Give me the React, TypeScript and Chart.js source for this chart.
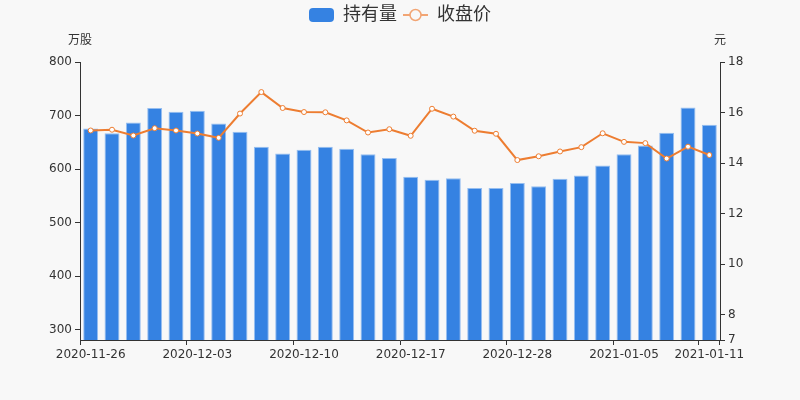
import React, { useRef, useEffect } from 'react';
import { Chart, registerables } from 'chart.js';

Chart.register(...registerables);

const dates = [
  '2020-11-26', '2020-11-27', '2020-11-30', '2020-12-01', '2020-12-02', '2020-12-03',
  '2020-12-04', '2020-12-07', '2020-12-08', '2020-12-09', '2020-12-10', '2020-12-11',
  '2020-12-14', '2020-12-15', '2020-12-16', '2020-12-17', '2020-12-18', '2020-12-21',
  '2020-12-22', '2020-12-23', '2020-12-28', '2020-12-29', '2020-12-30', '2020-12-31',
  '2021-01-04', '2021-01-05', '2021-01-06', '2021-01-07', '2021-01-08', '2021-01-11',
];

// 持有量 (万股)
const holdings = [
  676, 667, 687, 714, 707, 709, 685, 670, 642, 629,
  636, 642, 638, 628, 621, 586, 580, 583, 565, 565,
  574, 568, 582, 588, 607, 628, 644, 668, 715, 683,
];

// 收盘价 (元)
const closePrice = [
  15.29, 15.32, 15.09, 15.38, 15.29, 15.17, 15.0, 15.96, 16.81, 16.18,
  16.02, 16.01, 15.69, 15.21, 15.34, 15.08, 16.15, 15.84, 15.28, 15.16,
  14.12, 14.27, 14.46, 14.63, 15.18, 14.84, 14.79, 14.18, 14.65, 14.32,
];

const shownDateIdx = [0, 5, 10, 15, 20, 25, 29];
const leftTicks = [300, 400, 500, 600, 700, 800];
const rightTicks = [7, 8, 10, 12, 14, 16, 18];

const FONT = "'DejaVu Sans', 'Noto Sans CJK SC', sans-serif";
const AXIS = '#333';
const BAR = '#3582e2';
const LINE = '#ed7d31';

function makeBarIcon() {
  const c = document.createElement('canvas');
  c.width = 25;
  c.height = 14;
  const g = c.getContext('2d')!;
  g.fillStyle = BAR;
  g.beginPath();
  g.roundRect(0, 0, 25, 14, 4);
  g.fill();
  return c;
}

function makeLineIcon() {
  const c = document.createElement('canvas');
  c.width = 25;
  c.height = 14;
  const g = c.getContext('2d')!;
  g.strokeStyle = '#f2a574';
  g.lineWidth = 2;
  g.beginPath();
  g.moveTo(0, 7);
  g.lineTo(25, 7);
  g.stroke();
  g.fillStyle = '#f8f8f8';
  g.beginPath();
  g.arc(12.5, 7, 5.5, 0, Math.PI * 2);
  g.fill();
  g.lineWidth = 1.5;
  g.stroke();
  return c;
}

const axisNames = {
  id: 'axisNames',
  afterDraw(chart: any) {
    const { ctx, chartArea } = chart;
    ctx.save();
    ctx.font = `12px ${FONT}`;
    ctx.fillStyle = AXIS;
    ctx.textAlign = 'center';
    ctx.textBaseline = 'middle';
    ctx.fillText('万股', chartArea.left, chartArea.top - 21);
    ctx.fillText('元', chartArea.right, chartArea.top - 21);
    ctx.restore();
  },
};

const App: React.FC = () => {
  const canvas = useRef<HTMLCanvasElement>(null);

  useEffect(() => {
    if (!canvas.current) return;
    const ctx = canvas.current.getContext('2d');
    if (!ctx) return;

    const barIcon = makeBarIcon();
    const lineIcon = makeLineIcon();

    const tickVisible = (c: any) =>
      c.index === undefined || shownDateIdx.includes(c.index) ? AXIS : 'rgba(0,0,0,0)';

    const chart = new Chart(ctx, {
      type: 'bar',
      data: {
        labels: dates,
        datasets: [
          {
            type: 'line',
            label: '收盘价',
            data: closePrice,
            yAxisID: 'y1',
            borderColor: LINE,
            borderWidth: 2,
            pointRadius: 2.5,
            pointBorderWidth: 1,
            pointBackgroundColor: '#fff',
            pointBorderColor: LINE,
            tension: 0,
            order: 1,
          },
          {
            type: 'bar',
            label: '持有量',
            data: holdings,
            yAxisID: 'y',
            backgroundColor: BAR,
            borderColor: 'rgba(150,190,240,1)',
            borderWidth: 1,
            barPercentage: 0.7,
            categoryPercentage: 1,
            order: 2,
          },
        ],
      },
      options: {
        animation: false,
        responsive: false,
        maintainAspectRatio: false,
        layout: { padding: { top: 0, bottom: 0, left: 0, right: 0 } },
        font: { family: FONT },
        plugins: {
          tooltip: { enabled: false },
          // empty spacer between the legend and the plot
          title: {
            display: true,
            text: '',
            weight: 500,
            font: { size: 10 },
            padding: { top: 16, bottom: 0 },
          } as any,
          legend: {
            position: 'top',
            labels: {
              usePointStyle: true,
              pointStyleWidth: 25,
              padding: 6,
              color: AXIS,
              font: { size: 18, family: FONT },
              generateLabels: () => [
                { text: '持有量', pointStyle: barIcon, datasetIndex: 1, hidden: false, lineWidth: 0, fontColor: AXIS },
                { text: '收盘价', pointStyle: lineIcon, datasetIndex: 0, hidden: false, lineWidth: 0, fontColor: AXIS },
              ] as any,
            },
          },
        },
        scales: {
          x: {
            offset: true,
            grid: {
              offset: true,
              drawOnChartArea: false,
              tickLength: 5,
              color: tickVisible,
              tickColor: tickVisible,
            },
            border: { color: AXIS, width: 1 },
            ticks: {
              autoSkip: false,
              maxRotation: 0,
              color: AXIS,
              font: { size: 12, family: FONT },
              callback: (_v: any, i: number) => (shownDateIdx.includes(i) ? dates[i] : ''),
            },
            afterFit: (s: any) => {
              s.height = 60;
            },
          },
          y: {
            position: 'left',
            min: 281,
            max: 800,
            grid: { drawOnChartArea: false, tickLength: 5, color: AXIS, tickColor: AXIS },
            border: { color: AXIS, width: 1 },
            ticks: { color: AXIS, font: { size: 12, family: FONT } },
            afterBuildTicks: (s: any) => {
              s.ticks = leftTicks.map((v) => ({ value: v }));
            },
            afterFit: (s: any) => {
              s.width = 80;
            },
          },
          y1: {
            position: 'right',
            min: 7,
            max: 18,
            grid: { drawOnChartArea: false, tickLength: 5, color: AXIS, tickColor: AXIS },
            border: { color: AXIS, width: 1 },
            ticks: { color: AXIS, font: { size: 12, family: FONT } },
            afterBuildTicks: (s: any) => {
              s.ticks = rightTicks.map((v) => ({ value: v }));
            },
            afterFit: (s: any) => {
              s.width = 80;
            },
          },
        },
      },
      plugins: [axisNames],
    });

    return () => chart.destroy();
  }, []);

  return (
    <div style={{ position: 'fixed', left: 0, top: 0, width: 800, height: 400, background: '#f8f8f8' }}>
      <canvas ref={canvas} width={800} height={400} style={{ width: 800, height: 400 }}></canvas>
    </div>
  );
};

export default App;
